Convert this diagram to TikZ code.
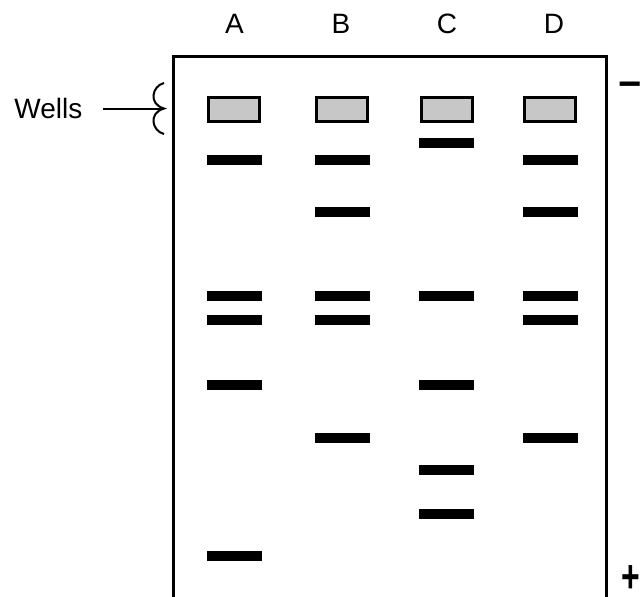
\documentclass[tikz,border=0pt]{standalone}
\usepackage{fontspec}
\setmainfont{Liberation Sans}
\begin{document}
\begin{tikzpicture}[x=1pt,y=-1pt,
  lbl/.style={font=\fontsize{28}{32}\selectfont, inner sep=0pt},
  pol/.style={font=\fontsize{40}{44}\selectfont\bfseries, inner sep=0pt, anchor=base},
  well/.style={draw=black, line width=3pt, fill=black!22, minimum width=51pt, minimum height=24pt, inner sep=0pt},
  band/.style={fill=black, minimum width=55pt, minimum height=10pt, inner sep=0pt},
  gel/.style={line width=3pt}]
\useasboundingbox (0,0) rectangle (640,597);
\draw[gel] (173.5,597) -- (173.5,56) -- (606,56) -- (606,597);
% lane labels
\node[lbl, anchor=base] (la) at (234.5,33) {A};
\node[lbl, anchor=base] (lb) at (341,33) {B};
\node[lbl, anchor=base] (lc) at (447,33) {C};
\node[lbl, anchor=base] (ld) at (554,33) {D};
% wells
\node[well] (wa) at (234,109) {};
\node[well] (wb) at (342,109) {};
\node[well] (wc) at (446.5,109) {};
\node[well] (wd) at (550,109) {};
% lane A
\node[band] (a1) at (234.5,160) {};
\node[band] (a2) at (234.5,295.5) {};
\node[band] (a3) at (234.5,320) {};
\node[band] (a4) at (234.5,385) {};
\node[band] (a5) at (234.5,556) {};
% lane B
\node[band] (b1) at (342,160) {};
\node[band] (b2) at (342,212) {};
\node[band] (b3) at (342,295.5) {};
\node[band] (b4) at (342,320) {};
\node[band] (b5) at (342,438) {};
% lane C
\node[band] (c1) at (446,143) {};
\node[band] (c2) at (446,295.5) {};
\node[band] (c3) at (446,385) {};
\node[band] (c4) at (446,470) {};
\node[band] (c5) at (446,514) {};
% lane D
\node[band] (d1) at (550,160) {};
\node[band] (d2) at (550,212) {};
\node[band] (d3) at (550,295.5) {};
\node[band] (d4) at (550,320) {};
\node[band] (d5) at (550,438) {};
% Wells label and brace
\node[lbl, anchor=base east] (wl) at (82.5,118) {Wells};
\coordinate (bt) at (164,83);
\coordinate (bm) at (164,108.5);
\coordinate (bb) at (164,134);
\draw[line width=2pt] (bt) .. controls (152,86) and (148,104) .. (bm)
  .. controls (148,113) and (152,131) .. (bb);
\coordinate (ws) at (103,108.5);
\draw[line width=2pt] (ws) -- (bm);
% polarity
\node[pol] (minus) at (630,97) {−};
\node[pol] (plus) at (630.5,592) {\scalebox{0.8}[1.15]{+}};
\end{tikzpicture}
\end{document}
